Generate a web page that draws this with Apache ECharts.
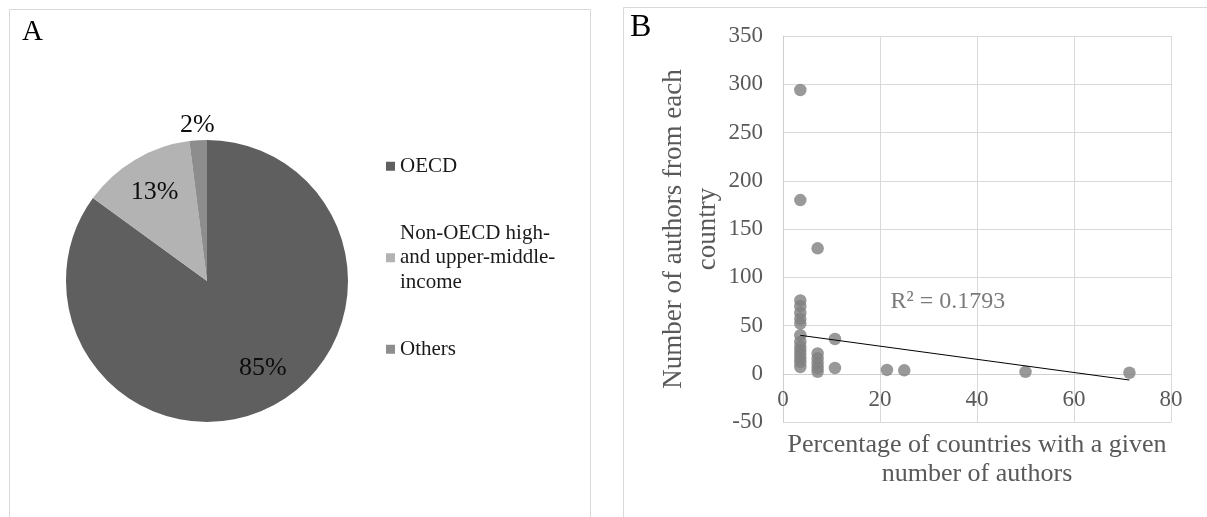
<!DOCTYPE html>
<html>
<head>
<meta charset="utf-8">
<script src="https://cdn.jsdelivr.net/npm/echarts@6/dist/echarts.min.js"></script>
<style>
  html, body { margin: 0; padding: 0; background: #ffffff; }
  #chart { width: 1207px; height: 517px; }
</style>
</head>
<body>
<div id="chart"></div>
<script>
// Panel A: share of authors by country group
const pieCategories = ['OECD', 'Non-OECD high-\nand upper-middle-\nincome', 'Others'];
const pieValues = [85, 13, 2];
const pieColors = ['#5f5f5f', '#b3b3b3', '#8d8d8d'];

// Panel B: authors per country vs. percentage of countries
const scatterX = [
  3.57, 3.57, 3.57, 3.57, 3.57, 3.57, 3.57, 3.57, 3.57, 3.57, 3.57, 3.57, 3.57, 3.57, 3.57,
  7.14, 7.14, 7.14, 7.14, 7.14, 7.14,
  10.71, 10.71,
  21.43, 25, 50, 71.43
];
const scatterY = [
  294, 180, 76, 70, 63, 57, 52, 40, 33, 28, 24, 20, 16, 12, 7,
  130, 21, 16, 11, 6, 2,
  36, 6,
  4, 3.5, 2, 1
];
// Linear trendline end points and its fit statistic
const trendX = [3.57, 71.43];
const trendY = [39.8, -6.5];
const rSquaredText = 'R² = 0.1793';
const rSquaredAt = [34, 75];

const xTicks = { min: 0, max: 80, interval: 20 };
const yTicks = { min: -50, max: 350, interval: 50 };

const serif = '"Liberation Serif", "Times New Roman", serif';
const axisGrey = '#595959';

const chart = echarts.init(document.getElementById('chart'));

const pieCenter = [207, 281];
const plot = { left: 783, top: 36, width: 388, height: 386 };
// horizontal axis sits on the y = 0 line, lifted from the plot bottom
const xAxisLift = -plot.height * (0 - yTicks.min) / (yTicks.max - yTicks.min);

chart.setOption({
  animation: false,
  backgroundColor: '#ffffff',
  textStyle: { fontFamily: serif },
  color: pieColors,
  graphic: [
    { type: 'rect', shape: { x: 9.5, y: 9.5, width: 581, height: 620 },
      style: { fill: 'none', stroke: '#d9d9d9', lineWidth: 1 }, silent: true },
    { type: 'rect', shape: { x: 623.5, y: 7.5, width: 700, height: 620 },
      style: { fill: 'none', stroke: '#d9d9d9', lineWidth: 1 }, silent: true },
    { type: 'text', left: 22, top: 18,
      style: { text: 'A', font: '29px ' + serif, fill: '#000000' }, silent: true },
    { type: 'text', left: 630, top: 12,
      style: { text: 'B', font: '32px ' + serif, fill: '#000000' }, silent: true }
  ],
  legend: {
    orient: 'vertical',
    left: 386,
    top: 154,
    padding: 0,
    itemGap: 18,
    itemWidth: 9,
    itemHeight: 9,
    icon: 'rect',
    selectedMode: false,
    textStyle: { fontFamily: serif, fontSize: 21, lineHeight: 24.5, color: '#1a1a1a' },
    data: [
      { name: pieCategories[0] },
      { name: pieCategories[1], textStyle: { padding: [49, 0, 0, 0] } },
      { name: pieCategories[2] }
    ]
  },
  grid: {
    left: plot.left, top: plot.top, width: plot.width, height: plot.height,
    containLabel: false,
    outerBoundsMode: 'none'
  },
  xAxis: {
    type: 'value',
    min: xTicks.min, max: xTicks.max, interval: xTicks.interval,
    offset: xAxisLift,
    name: 'Percentage of countries with a given\nnumber of authors',
    nameLocation: 'middle',
    nameGap: 57,
    nameTextStyle: { fontFamily: serif, fontSize: 26, lineHeight: 29, color: axisGrey },
    axisLine: { onZero: false, lineStyle: { color: '#cfcfcf', width: 1 } },
    axisTick: { show: false },
    axisLabel: { fontFamily: serif, fontSize: 23, color: axisGrey, margin: 15 },
    splitLine: { lineStyle: { color: '#d9d9d9', width: 1 } }
  },
  yAxis: {
    type: 'value',
    min: yTicks.min, max: yTicks.max, interval: yTicks.interval,
    name: 'Number of authors from each\ncountry',
    nameLocation: 'middle',
    nameGap: 57,
    nameTextStyle: { fontFamily: serif, fontSize: 27, lineHeight: 34, color: axisGrey },
    axisLine: { show: true, onZero: false, lineStyle: { color: '#cfcfcf', width: 1 } },
    axisTick: { show: false },
    axisLabel: { fontFamily: serif, fontSize: 23, color: axisGrey, margin: 20 },
    splitLine: { lineStyle: { color: '#d9d9d9', width: 1 } }
  },
  series: [
    {
      type: 'pie',
      center: pieCenter,
      radius: [0, 141],
      startAngle: 90,
      clockwise: true,
      silent: true,
      label: { show: false },
      labelLine: { show: false },
      itemStyle: { borderWidth: 0 },
      data: pieCategories.map((n, i) => ({ name: n, value: pieValues[i] }))
    },
    {
      // percentage labels for the two large slices
      type: 'pie',
      center: pieCenter,
      radius: [0, 200],
      startAngle: 90,
      clockwise: true,
      silent: true,
      itemStyle: { color: 'rgba(0,0,0,0)' },
      labelLine: { show: false },
      label: {
        show: true, position: 'inside', formatter: '{c}%',
        fontFamily: serif, fontSize: 26, color: '#0d0d0d'
      },
      labelLayout: function (p) { return p.dataIndex === 0 ? { dx: 9, dy: -5 } : {}; },
      data: pieCategories.map((n, i) => ({
        name: n, value: pieValues[i],
        label: { show: i !== 2 }
      }))
    },
    {
      // label for the small slice, set just outside the rim
      type: 'pie',
      center: pieCenter,
      radius: [146, 160],
      startAngle: 90,
      clockwise: true,
      silent: true,
      itemStyle: { color: 'rgba(0,0,0,0)' },
      labelLine: { show: false },
      label: {
        show: true, position: 'inside', formatter: '{c}%',
        fontFamily: serif, fontSize: 26, color: '#0d0d0d'
      },
      data: pieCategories.map((n, i) => ({
        name: n, value: pieValues[i],
        label: { show: i === 2 }
      }))
    },
    {
      type: 'scatter',
      symbol: 'circle',
      symbolSize: 12.5,
      itemStyle: { color: '#808080' },
      silent: true,
      data: scatterX.map((x, i) => [x, scatterY[i]]),
      z: 3
    },
    {
      type: 'line',
      showSymbol: false,
      symbol: 'none',
      silent: true,
      lineStyle: { color: '#000000', width: 1 },
      data: trendX.map((x, i) => [x, trendY[i]]),
      z: 4
    },
    {
      // fit statistic written inside the plot
      type: 'scatter',
      silent: true,
      symbol: 'circle',
      symbolSize: 1,
      itemStyle: { color: 'rgba(0,0,0,0)' },
      label: {
        show: true, position: 'inside', formatter: rSquaredText,
        fontFamily: serif, fontSize: 24, color: axisGrey
      },
      data: [rSquaredAt],
      z: 5
    }
  ]
});
</script>
</body>
</html>
